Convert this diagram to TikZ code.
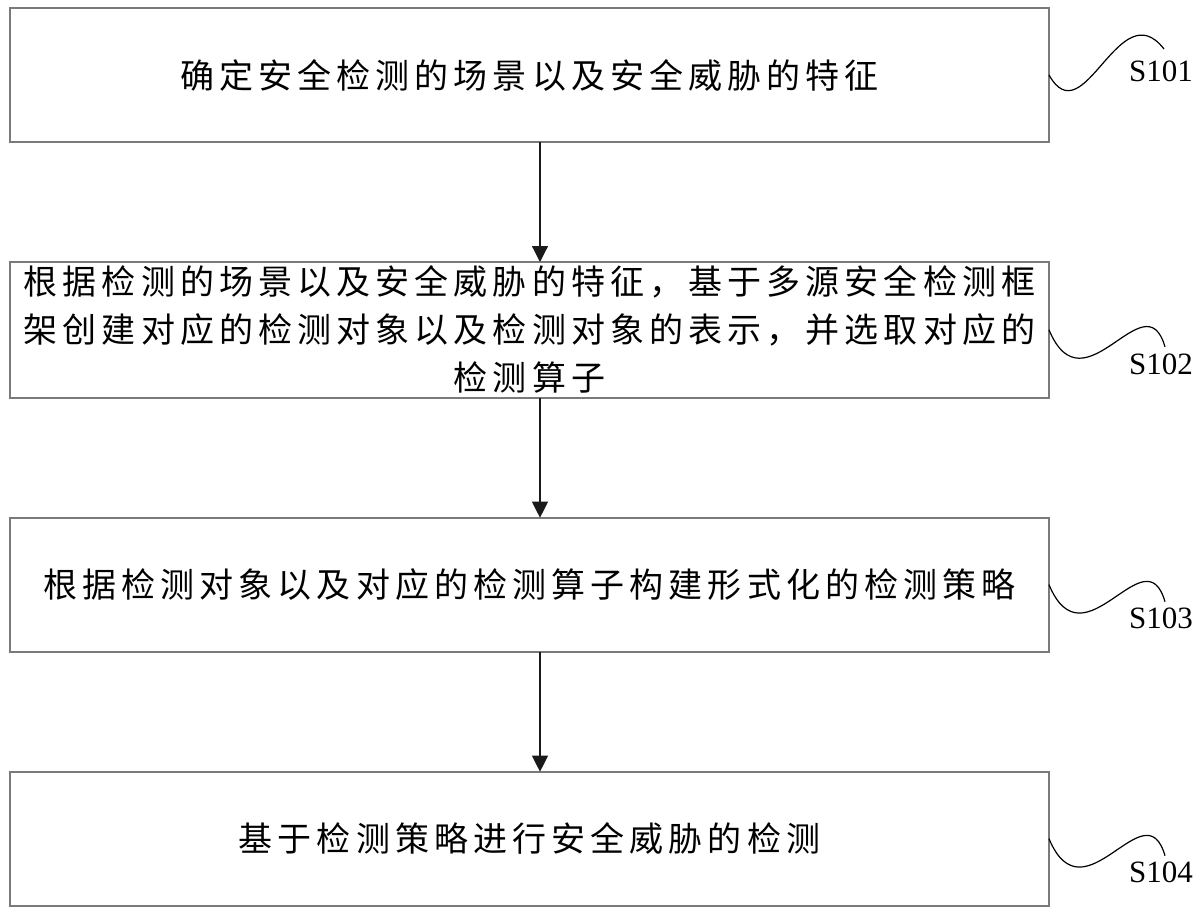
\documentclass[tikz,border=0pt]{standalone}
\usepackage{fontspec}
\setmainfont{Liberation Serif}
\newfontfamily\cjk[LetterSpace=15]{Noto Sans CJK SC}
\usepackage{tikz}
\usetikzlibrary{arrows.meta,positioning,calc}
\definecolor{fcink}{HTML}{1A1A1A}
\definecolor{fcframe}{HTML}{7A7A7A}
\tikzset{
  stepbox/.style = {rectangle, draw=fcframe, line width=1pt, fill=white, align=center,
                    minimum width=519.5pt, minimum height=67pt, inner sep=2pt, outer sep=0pt,
                    font=\cjk\fontsize{17}{24}\selectfont, text=black},
  steplbl/.style = {font=\fontsize{15.5}{18}\selectfont, inner sep=0pt, text=black},
  flow/.style    = {-{Triangle[length=8pt,width=8pt]}, line width=0.6pt, draw=fcink},
  squiggle/.style = {line width=0.6pt, draw=black},
}
\begin{document}
\begin{tikzpicture}[x=0.5pt, y=-0.5pt, node distance=60pt]
\useasboundingbox (0,0) rectangle (1201,910);

% --- steps
\node[stepbox] (b1) at (529.5,75) {确定安全检测的场景以及安全威胁的特征};
\node[stepbox, below=of b1] (b2) {根据检测的场景以及安全威胁的特征，基于多源安全检测框\\架创建对应的检测对象以及检测对象的表示，并选取对应的\\检测算子};
\node[stepbox, below=of b2] (b3) {根据检测对象以及对应的检测算子构建形式化的检测策略};
\node[stepbox, below=of b3] (b4) {基于检测策略进行安全威胁的检测};

% --- arrows
\coordinate (ax) at (540,0);
\draw[flow] (b1.south -| ax) -- (b2.north -| ax);
\draw[flow] (b2.south -| ax) -- (b3.north -| ax);
\draw[flow] (b3.south -| ax) -- (b4.north -| ax);

% --- step labels
\coordinate (e1) at ($(b1.east)+(115,-26)$);
\node[steplbl] (s1) at ($(e1)+(-3,22)$) {S101};
\draw[squiggle] (b1.east) .. controls +(35,62) and +(-45,-58) .. (e1);

\coordinate (e2) at ($(b2.east)+(116,17)$);
\node[steplbl] (s2) at ($(e2)+(-4,17)$) {S102};
\draw[squiggle] (b2.east) .. controls +(35,84) and +(-20,-69) .. (e2);

\coordinate (e3) at ($(b3.east)+(116,17)$);
\node[steplbl] (s3) at ($(e3)+(-4,17)$) {S103};
\draw[squiggle] (b3.east) .. controls +(35,84) and +(-20,-69) .. (e3);

\coordinate (e4) at ($(b4.east)+(116,17)$);
\node[steplbl] (s4) at ($(e4)+(-4,17)$) {S104};
\draw[squiggle] (b4.east) .. controls +(35,84) and +(-20,-69) .. (e4);

\end{tikzpicture}
\end{document}
